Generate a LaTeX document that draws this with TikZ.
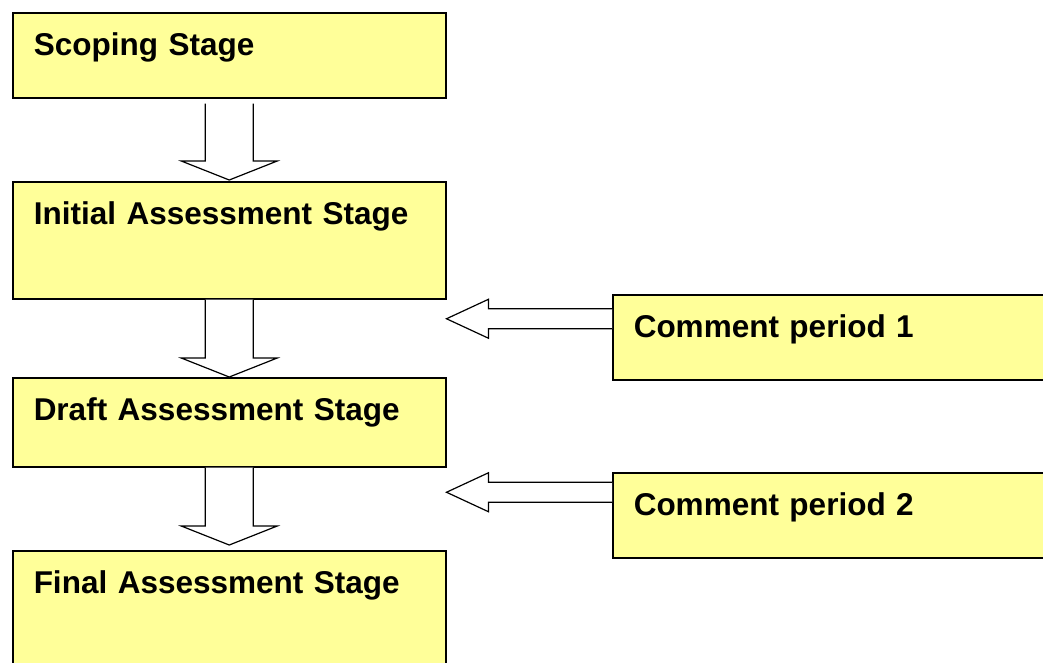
\documentclass[tikz,border=0pt]{standalone}
\usepackage{fontspec}
\setmainfont{Liberation Sans}
\usetikzlibrary{calc}
\definecolor{stagefill}{HTML}{FFFF99}

\tikzset{
  stage/.style={draw=black, line width=1.5pt, fill=stagefill, anchor=north west,
    inner xsep=21pt, inner ysep=0pt, text height=43pt, align=left,
    font=\fontsize{31.5}{38}\selectfont\bfseries},
  hollow/.style={draw=black, line width=1.2pt, fill=white, line join=miter},
}

% hollow block arrow pointing down, from one stage to the next
% (#3 = gap below the upper box, #4 = gap above the lower box)
\newcommand{\blockdown}[4]{%
  \draw[hollow] ($(#1.south)+(-24,#3)$) -- ($(#2.north)+(-24,-19-#4)$)
    -- ++(-24,0) -- ($(#2.north)+(0,-#4)$) -- ++(48,-19) -- ++(-24,0)
    -- ($(#1.south)+(24,#3)$);}

% hollow block arrow pointing left, from a comment box to a stage
\newcommand{\blockleft}[3]{%
  \coordinate (s) at ($(#1.west)+(0,#3)$);
  \draw[hollow] ($(s)+(0,-10)$) -- ($(#2.east |- s)+(42,-10)$)
    -- ++(0,-9.5) -- (#2.east |- s) -- ++(42,19.5) -- ++(0,-9.5)
    -- ($(s)+(0,10)$);}

\begin{document}
\begin{tikzpicture}[x=1pt,y=-1pt]
  \useasboundingbox (0,0) rectangle (1043,662);
  \clip (0,0) rectangle (1043,662);

  \node[stage, text width=391pt, text depth=42pt] (scoping) at (12,12) {Scoping Stage};
  \node[stage, text width=391pt, text depth=74pt] (initial) at (12,181) {Initial Assessment Stage};
  \node[stage, text width=391pt, text depth=46pt] (draft) at (12,377) {Draft Assessment Stage};
  \node[stage, text width=391pt, text depth=87pt] (final) at (12,550) {Final Assessment Stage};

  \node[stage, text width=406pt, text depth=42pt] (comment1) at (612,294) {Comment period 1};
  \node[stage, text width=406pt, text depth=42pt] (comment2) at (612,472) {Comment period 2};

  \blockdown{scoping}{initial}{5}{1}
  \blockdown{initial}{draft}{0}{0}
  \blockdown{draft}{final}{0}{5}

  \blockleft{comment1}{initial}{-18.5}
  \blockleft{comment2}{draft}{-23}
\end{tikzpicture}
\end{document}
